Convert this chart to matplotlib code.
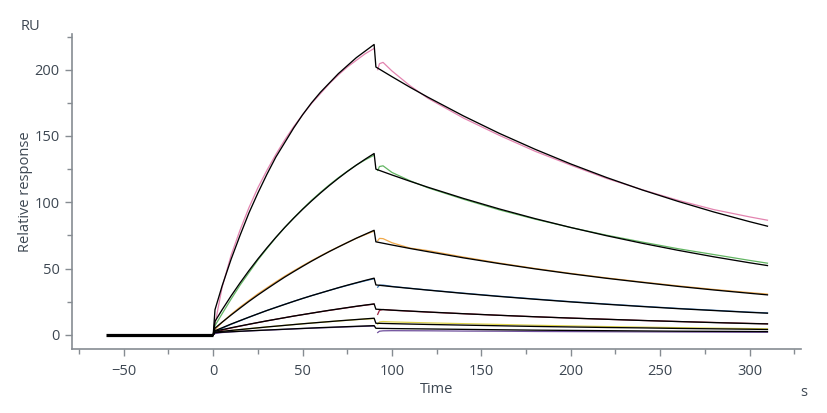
import matplotlib
matplotlib.use("Agg")
import matplotlib.pyplot as plt
from matplotlib.ticker import MultipleLocator

plt.rcParams['font.family'] = ['Open Sans', 'DejaVu Sans']

# baseline before injection
t_base = [-60, 0]
v_base = [0, 0]

# association / dissociation time points (s)
t_assoc = [0, 1, 5, 10, 15, 20, 25, 30, 35, 40, 45, 50, 55, 60, 65, 70, 75, 80, 85, 90]
t_fit_dissoc = [91, 100, 110, 120, 140, 160, 180, 200, 220, 240, 260, 280, 300, 310]
t_dat_dissoc = [92, 93, 95, 100, 110, 120, 140, 160, 180, 200, 220, 240, 260, 280, 300, 310]

# fitted curves (black)
fit_assoc = [
    [0, 19, 37, 57, 75, 92, 107, 121, 134, 145, 156, 166, 175, 183, 190, 197, 203, 209, 214, 219],
    [0, 10.2, 19, 29.4, 39.2, 48.5, 57.3, 65.6, 73.5, 81, 88, 94.7, 101, 107, 112.7, 118.1, 123.2, 128, 132.5, 136.8],
    [0, 5.1, 9.6, 15, 20.2, 25.3, 30.1, 34.7, 39.2, 43.6, 47.7, 51.7, 55.6, 59.3, 62.9, 66.3, 69.6, 72.9, 75.9, 78.9],
    [0, 3.2, 5.4, 8.2, 10.8, 13.4, 15.9, 18.4, 20.7, 23, 25.3, 27.5, 29.6, 31.6, 33.6, 35.6, 37.5, 39.3, 41.1, 42.8],
    [0, 2.9, 4.0, 5.4, 6.75, 8.05, 9.35, 10.6, 11.8, 13, 14.2, 15.3, 16.4, 17.5, 18.6, 19.6, 20.6, 21.6, 22.5, 23.4],
    [0, 2.1, 2.7, 3.4, 4.05, 4.7, 5.35, 6, 6.6, 7.2, 7.8, 8.4, 8.95, 9.5, 10.05, 10.6, 11.1, 11.6, 12.1, 12.6],
    [0, 1.7, 2.05, 2.4, 2.75, 3.1, 3.4, 3.7, 4.0, 4.3, 4.6, 4.9, 5.2, 5.5, 5.75, 6, 6.25, 6.5, 6.75, 7],
]
fit_dissoc = [
    [202, 194.7, 186.8, 179.3, 165.1, 152.0, 140.0, 128.9, 118.7, 109.3, 100.7, 92.7, 85.4, 82.0],
    [125, 120.6, 115.9, 111.4, 102.9, 95.0, 87.7, 81.0, 74.8, 69.1, 63.8, 58.9, 54.4, 52.3],
    [70.2, 67.8, 65.2, 62.8, 58.1, 53.8, 49.8, 46.1, 42.7, 39.6, 36.6, 33.9, 31.4, 30.2],
    [37.7, 36.4, 35.1, 33.8, 31.3, 29.0, 26.9, 24.9, 23.1, 21.4, 19.8, 18.4, 17.0, 16.4],
    [19.4, 18.7, 18.0, 17.3, 16.0, 14.8, 13.7, 12.7, 11.8, 10.9, 10.1, 9.3, 8.6, 8.3],
    [8.8, 8.5, 8.2, 7.9, 7.4, 6.9, 6.4, 6.0, 5.6, 5.3, 4.9, 4.6, 4.3, 4.1],
    [5, 4.8, 4.65, 4.5, 4.2, 3.9, 3.6, 3.4, 3.2, 3.0, 2.8, 2.7, 2.6, 2.5],
]

# measured sensorgrams (coloured)
dat_colors = ['#e384b0', '#62b562', '#f0a94a', '#3b79b8', '#9c2340', '#ddd24a', '#6f4f9c']
dat_assoc = [
    [0, 8, 36, 60, 79, 96, 111, 124, 136, 147, 157, 166, 174.5, 182, 189.5, 196, 202, 207, 212, 216],
    [0, 7, 16, 27, 37.5, 47, 56.5, 65, 73.3, 81, 88.2, 95, 101.5, 107.5, 113.2, 118.5, 123.4, 128, 132, 135.5],
    [0, 4, 9.5, 15.5, 21, 26, 31, 35.5, 40, 44.3, 48.3, 52.2, 56, 59.6, 63.1, 66.4, 69.7, 72.8, 75.6, 78.3],
    [0, 2, 5, 8, 10.7, 13.3, 15.9, 18.4, 20.8, 23.1, 25.3, 27.5, 29.6, 31.6, 33.6, 35.5, 37.3, 39.1, 40.8, 42.4],
    [0, 1.5, 3.5, 5.2, 6.6, 8, 9.3, 10.6, 11.8, 13, 14.2, 15.3, 16.4, 17.5, 18.5, 19.5, 20.5, 21.5, 22.4, 23.2],
    [0, 1.5, 2.5, 3.3, 4, 4.7, 5.35, 6.0, 6.6, 7.2, 7.8, 8.4, 8.95, 9.5, 10, 10.5, 11, 11.5, 11.9, 12.3],
    [0, 1, 1.8, 2.3, 2.65, 3, 3.3, 3.6, 3.9, 4.2, 4.5, 4.8, 5.05, 5.3, 5.55, 5.8, 6.05, 6.3, 6.5, 6.7],
]
dat_dissoc = [
    [200, 204.5, 205.5, 199, 188, 178.5, 163.5, 150.5, 138.5, 128, 118, 109.5, 101.5, 94.5, 89, 86.5],
    [124, 127, 127.5, 122.5, 116.3, 111, 102.3, 94.3, 87.3, 81.0, 75.2, 70.0, 65.0, 60.6, 56.2, 54.1],
    [71, 72.8, 72.6, 69.5, 65.5, 63.6, 58.7, 54.2, 50.1, 46.4, 43, 39.9, 37, 34.3, 31.9, 30.8],
    [36, 37.5, 37.6, 36.6, 35.2, 33.9, 31.5, 29.2, 27.1, 25.1, 23.3, 21.6, 20, 18.6, 17.2, 16.6],
    [15.5, 18.5, 19.2, 18.6, 17.9, 17.2, 16, 14.8, 13.7, 12.7, 11.8, 10.9, 10.1, 9.4, 8.7, 8.4],
    [8, 9.8, 10.1, 9.8, 9.45, 9.1, 8.5, 7.9, 7.3, 6.8, 6.3, 5.9, 5.5, 5.1, 4.8, 4.6],
    [1.8, 2.8, 3.1, 3.2, 3.15, 3.1, 2.9, 2.8, 2.6, 2.5, 2.4, 2.3, 2.2, 2.1, 2.0, 2.0],
]

text_col = '#3d4752'
axis_col = '#868c92'

fig = plt.figure(figsize=(8.27, 4.13), dpi=100)
ax = fig.add_axes([0.087, 0.155, 0.881, 0.763])

for i in range(len(dat_assoc)):
    ax.plot(t_assoc, dat_assoc[i], color=dat_colors[i], lw=0.9)
    ax.plot(t_dat_dissoc, dat_dissoc[i], color=dat_colors[i], lw=0.9)

for i in range(len(fit_assoc)):
    ax.plot(t_assoc + t_fit_dissoc, fit_assoc[i] + fit_dissoc[i], color='black', lw=0.95)

ax.plot(t_base, v_base, color='black', lw=2.3, solid_capstyle='butt')

ax.set_xlim(-79, 328.5)
ax.set_ylim(-10.6, 227)

ax.xaxis.set_major_locator(MultipleLocator(50))
ax.xaxis.set_minor_locator(MultipleLocator(25))
ax.yaxis.set_major_locator(MultipleLocator(50))
ax.yaxis.set_minor_locator(MultipleLocator(25))

for s in ['top', 'right']:
    ax.spines[s].set_visible(False)
for s in ['left', 'bottom']:
    ax.spines[s].set_color(axis_col)
    ax.spines[s].set_linewidth(1.2)

ax.tick_params(which='major', length=5, width=1, color=axis_col, labelcolor=text_col, labelsize=10.5)
ax.tick_params(axis='x', which='major', pad=6)
ax.tick_params(axis='y', which='major', pad=4)
ax.tick_params(which='minor', length=3.5, width=1, color=axis_col)

ax.set_xlabel('Time', color=text_col, fontsize=10.5, labelpad=2)
ax.set_ylabel('Relative response', color=text_col, fontsize=10.5, labelpad=1)
fig.text(0.025, 0.935, 'RU', color=text_col, fontsize=10.5, va='center')
fig.text(0.968, 0.05, 's', color=text_col, fontsize=10.5, va='center')

fig.savefig('out.png', dpi=100)
